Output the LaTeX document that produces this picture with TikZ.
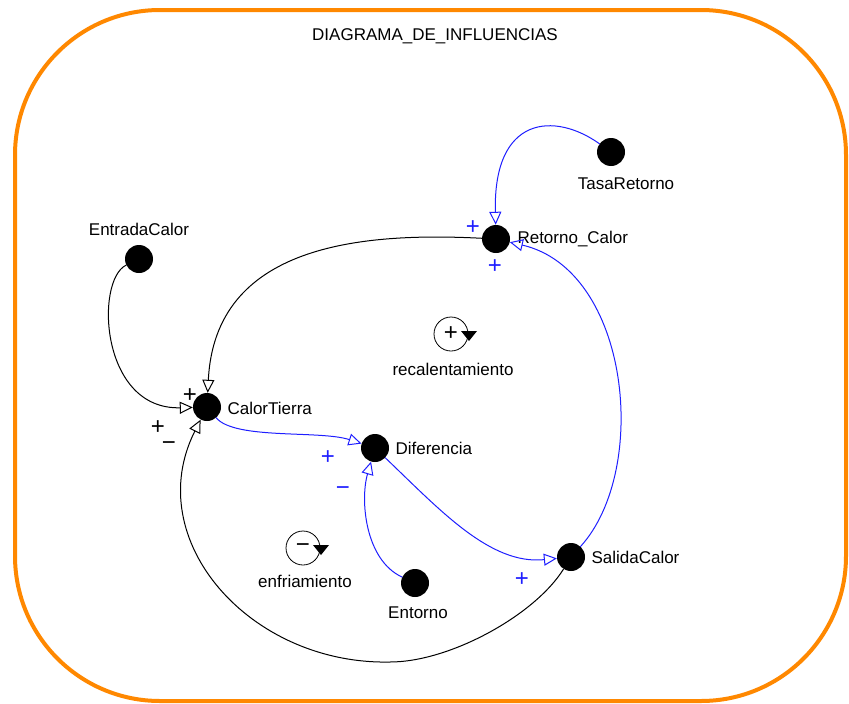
\documentclass[tikz,border=0pt]{standalone}
\usepackage{fontspec}
\setmainfont{Liberation Sans}
\usetikzlibrary{arrows.meta}
\definecolor{naranja}{RGB}{255,136,0}
\definecolor{azul}{RGB}{30,30,255}
\begin{document}
\begin{tikzpicture}[x=1pt,y=-1pt,line join=round,line cap=round,font=\fontsize{17}{19}\selectfont,
		dot/.style={circle,fill=black,inner sep=0pt,minimum size=28pt},
		flecha/.style={-{Triangle[open,length=13pt,width=12pt]},line width=1pt},
		signo/.style={inner sep=0pt,font=\fontsize{24}{24}\selectfont}]
	\useasboundingbox (0,0) rectangle (849,704);
	\draw[naranja,line width=4pt,rounded corners=145pt] (15,10) rectangle (846,701);
	\node (titulo) at (435,36) {DIAGRAMA\_DE\_INFLUENCIAS};
	% variables
	\foreach \n/\x/\y in {ec/139/259,ct/207/407,df/375/448,en/415/583,sc/571/557,rc/496/239,tr/611/152}{
		\node[dot] (\n) at (\x,\y) {};
	};
	\node (lec) at (139,229) {EntradaCalor};
	\node[anchor=west] (lct) at (224,408) {CalorTierra};
	\node[anchor=west] (ldf) at (392,448) {Diferencia};
	\node (len) at (418,613) {Entorno};
	\node[anchor=west] (lsc) at (588,557) {SalidaCalor};
	\node[anchor=west] (lrc) at (514,239) {Retorno\_Calor};
	\node (ltr) at (626,184) {TasaRetorno};
	% lazos
	\foreach \n/\x/\y/\s in {rec/451/334/+,enf/303/548/−}{
		\draw[line width=0.8pt] (\x,\y) circle (17);
		\fill (\x+10,\y-3)--++(16,0)--++(-8,10)--cycle;
		\node[signo] (s\n) at (\x,\y) {\s};
	};
	\node (lrec) at (453,369) {recalentamiento};
	\node (lenf) at (305,581) {enfriamiento};
	% influencias
	\coordinate (fondo) at (390,662);
	\draw[flecha] (ec) .. controls (95,280) and (100,410) .. (ct);
	\draw[flecha] (rc) .. controls (360,232) and (215,245) .. (ct);
	\draw[flecha] (sc) .. controls (535,615) and (450,662) .. (fondo)
		.. controls (250,665) and (140,540) .. (ct);
	\draw[flecha,azul] (ct) .. controls (235,440) and (320,430) .. (df);
	\draw[flecha,azul] (en) .. controls (365,560) and (360,500) .. (df);
	\draw[flecha,azul] (df) .. controls (440,510) and (490,565) .. (sc);
	\draw[flecha,azul] (sc) .. controls (650,470) and (630,270) .. (rc);
	\draw[flecha,azul] (tr) .. controls (555,112) and (493,115) .. (rc);
	% signos
	\foreach \x/\y/\s in {190/396/+,158/428/+,169/446/−}{
		\node[signo] at (\x,\y) {\s};
	};
	\foreach \x/\y/\s in {328/458/+,343/491/−,522/580/+,495/267/+,473/228/+}{
		\node[signo,azul] at (\x,\y) {\s};
	};
\end{tikzpicture}
\end{document}
